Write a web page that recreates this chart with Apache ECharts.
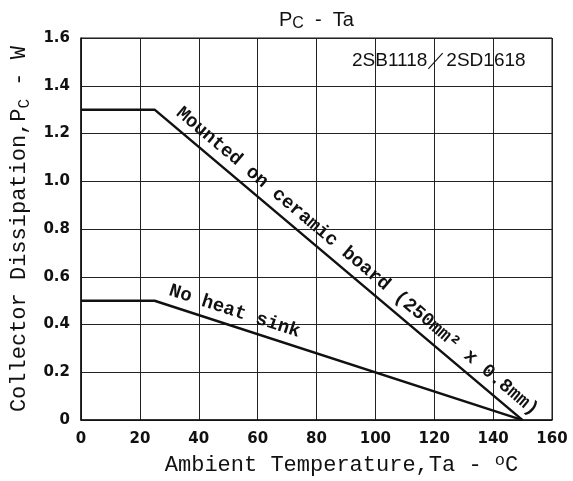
<!DOCTYPE html>
<html>
<head>
<meta charset="utf-8">
<script src="https://cdn.jsdelivr.net/npm/echarts@6/dist/echarts.min.js"></script>
<style>
  html, body { margin: 0; padding: 0; background: #fff; }
  #chart { width: 573px; height: 481px; }
</style>
</head>
<body>
<div id="chart"></div>
<script>
// Pc - Ta derating curves (2SB1118 / 2SD1618)
const tempC = [0, 25, 150];
const pcCeramic = [1.3, 1.3, 0];
const pcNoSink = [0.5, 0.5, 0];
const xTicks = [0, 20, 40, 60, 80, 100, 120, 140, 160];
const yTicks = ['0', '0.2', '0.4', '0.6', '0.8', '1.0', '1.2', '1.4', '1.6'];
const ceramicLabel = 'Mounted on ceramic board (250mm² x 0.8mm)';
const noSinkLabel = 'No heat sink';
const partLabel = '2SB1118／2SD1618';

const ink = '#111';
const mono = '"Liberation Mono", "DejaVu Sans Mono", monospace';
const sans = '"Liberation Sans", sans-serif';
const tickFont = '"DejaVu Sans", sans-serif';

const toPoints = ys => tempC.map((t, i) => [t, ys[i]]);

// label along the sloped part of a curve (line itself invisible)
const slopeLabel = (ys, text, pad) => ({
  silent: true,
  symbol: 'none',
  lineStyle: { color: 'rgba(0,0,0,0)', width: 0, opacity: 1 },
  label: {
    show: true,
    position: 'insideStartTop',
    formatter: text,
    color: ink,
    opacity: 1,
    fontFamily: mono,
    fontSize: 19,
    fontWeight: 'bold',
    distance: 5,
    padding: [0, 0, 0, pad]
  },
  data: [[{ coord: [tempC[1], ys[1]] }, { coord: [tempC[2], ys[2]] }]]
})

const curve = (name, ys, text, pad) => ({
  name,
  type: 'line',
  data: toPoints(ys),
  symbol: 'none',
  lineStyle: { color: ink, width: 2.5 },
  markLine: slopeLabel(ys, text, pad)
})

const chart = echarts.init(document.getElementById('chart'))

chart.setOption({
  backgroundColor: '#fff',
  animation: false,
  title: [
    {
      text: '{p|P}{s|C}{p|  -  Ta}',
      left: 274,
      top: 3,
      textStyle: {
        fontWeight: 'normal',
        rich: {
          p: { fontFamily: sans, fontSize: 20, fontWeight: 'normal', color: ink, lineHeight: 24 },
          s: { fontFamily: sans, fontSize: 16, fontWeight: 'normal', color: ink, lineHeight: 14, verticalAlign: 'bottom' }
        }
      }
    },
    {
      text: partLabel,
      left: 347,
      top: 46,
      textStyle: { fontFamily: sans, fontSize: 19, fontWeight: 'normal', color: ink }
    }
  ],
  grid: {
    left: 81,
    right: 21,
    top: 38,
    bottom: 58,
    show: true,
    borderColor: ink,
    borderWidth: 1
  },
  xAxis: {
    type: 'value',
    min: xTicks[0],
    max: xTicks[xTicks.length - 1],
    interval: 20,
    name: '{t|Ambient Temperature,Ta - }{sup|o}{t|C}',
    nameLocation: 'middle',
    nameGap: 31,
    nameTextStyle: {
      padding: [0, 0, 0, 50],
      rich: {
        t: { fontFamily: mono, fontSize: 22, color: ink, lineHeight: 26 },
        sup: { fontFamily: mono, fontSize: 17, color: ink, lineHeight: 14, verticalAlign: 'top' }
      }
    },
    axisLine: { lineStyle: { color: ink, width: 1.5 } },
    axisTick: { show: false },
    axisLabel: {
      margin: 12,
      color: ink,
      fontFamily: tickFont,
      fontWeight: 'bold',
      fontSize: 15
    },
    splitLine: { show: true, lineStyle: { color: '#222', width: 1 } }
  },
  yAxis: {
    type: 'value',
    min: 0,
    max: 1.6,
    interval: 0.2,
    name: '{t|Collector Dissipation,P}{sub|C}{t| - W}',
    nameLocation: 'middle',
    nameGap: 46,
    nameTextStyle: {
      rich: {
        t: { fontFamily: mono, fontSize: 22, color: ink, lineHeight: 26 },
        sub: { fontFamily: mono, fontSize: 16, color: ink, lineHeight: 14, verticalAlign: 'bottom' }
      }
    },
    axisLine: { show: true, lineStyle: { color: ink, width: 1.5 } },
    axisTick: { show: false },
    axisLabel: {
      margin: 11,
      color: ink,
      fontFamily: tickFont,
      fontWeight: 'bold',
      fontSize: 15,
      formatter: v => yTicks[Math.round(v / 0.2)]
    },
    splitLine: { show: true, lineStyle: { color: '#222', width: 1 } }
  },
  series: [
    curve('ceramic', pcCeramic, ceramicLabel, 14),
    curve('noSink', pcNoSink, noSinkLabel, 6)
  ]
})
</script>
</body>
</html>
